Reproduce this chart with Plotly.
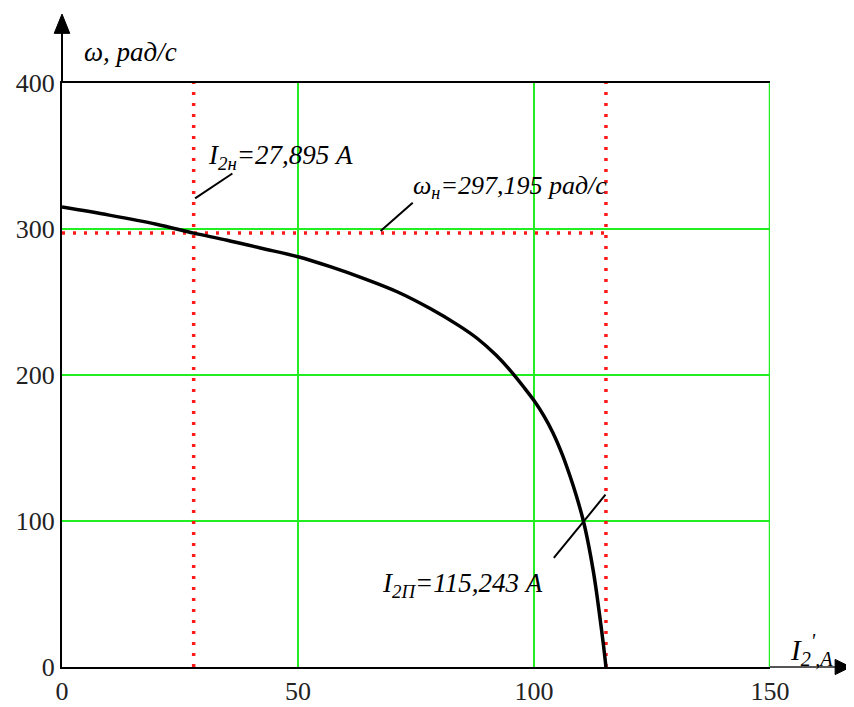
import plotly.graph_objects as go

# Data
I2 = [0, 10, 20, 27.895, 35, 42, 50, 57, 64, 71, 78, 84, 88, 92, 95, 98, 100,
      102, 104, 106, 107.5, 109, 110.5, 111.6, 112.6, 113.3, 114, 114.7, 115.243]
omega = [315, 309.5, 303.3, 297.195, 292.3, 287, 281, 274, 266, 257, 245.5, 234, 225, 213.5, 203, 191, 182.5,
         172.5, 160.5, 145.5, 132, 117, 99.5, 83, 65, 50, 33, 15.5, 0]
I2_nom = 27.895
omega_nom = 297.195
I2_start = 115.243
x_ticks = [0, 50, 100, 150]
y_ticks = [0, 100, 200, 300, 400]

GREEN = "#22ee22"
RED = "#ff1a1a"
SERIF = "Liberation Serif"
DOT = "3px,8px"

fig = go.Figure()

# red dotted reference lines
fig.add_trace(go.Scatter(x=[I2_nom, I2_nom], y=[0, 400], mode="lines",
                         line=dict(color=RED, width=3.5, dash=DOT), hoverinfo="skip"))
fig.add_trace(go.Scatter(x=[I2_start, I2_start], y=[0, 400], mode="lines",
                         line=dict(color=RED, width=3.5, dash=DOT), hoverinfo="skip"))
fig.add_trace(go.Scatter(x=[0, I2_start], y=[omega_nom, omega_nom], mode="lines",
                         line=dict(color=RED, width=3.5, dash=DOT), hoverinfo="skip"))

# main curve
fig.add_trace(go.Scatter(x=I2, y=omega, mode="lines",
                         line=dict(color="black", width=3.5, shape="spline", smoothing=1.0),
                         hoverinfo="skip"))

shapes = []
# green gridline at right edge
shapes.append(dict(type="line", xref="x", yref="y", x0=150, x1=150, y0=0, y1=400,
                   line=dict(color=GREEN, width=2.5)))
# leader lines
shapes.append(dict(type="line", xref="x", yref="y", x0=I2_nom + 0.3, y0=321, x1=I2_nom + 8.2, y1=338,
                   line=dict(color="black", width=2)))
shapes.append(dict(type="line", xref="x", yref="y", x0=67.5, y0=omega_nom + 1.5, x1=74.3, y1=318,
                   line=dict(color="black", width=2)))
shapes.append(dict(type="line", xref="x", yref="y", x0=104.2, y0=74.7, x1=I2_start - 0.1, y1=118,
                   line=dict(color="black", width=2)))
# axis extensions with arrows (paper coords)
shapes.append(dict(type="line", xref="paper", yref="paper", x0=0, x1=0, y0=1, y1=1.09,
                   line=dict(color="black", width=2)))
shapes.append(dict(type="path", xref="paper", yref="paper",
                   path="M -0.011 1.085 L 0.011 1.085 L 0 1.118 Z",
                   fillcolor="black", line=dict(color="black", width=1)))
shapes.append(dict(type="line", xref="paper", yref="paper", x0=1, x1=1.095, y0=0, y1=0,
                   line=dict(color="#555555", width=2)))
shapes.append(dict(type="path", xref="paper", yref="paper",
                   path="M 1.092 -0.013 L 1.092 0.013 L 1.114 0 Z",
                   fillcolor="black", line=dict(color="black", width=1)))

def afont(size):
    return dict(family=SERIF, size=size, color="black", style="italic")

annotations = [
    dict(x=30.6, y=349.3, xref="x", yref="y", xanchor="left", yanchor="middle", showarrow=False,
         text="I<sub>2н</sub>=27,895 A", font=afont(27)),
    dict(x=73.9, y=328.8, xref="x", yref="y", xanchor="left", yanchor="middle", showarrow=False,
         text="ω<sub>н</sub>=297,195 рад/с", font=afont(26)),
    dict(x=67.3, y=56.2, xref="x", yref="y", xanchor="left", yanchor="middle", showarrow=False,
         text="I<sub>2П</sub>=115,243 A", font=afont(27)),
    dict(x=0.028, y=1.053, xref="paper", yref="paper", xanchor="left", yanchor="middle", showarrow=False,
         text="ω, рад/с", font=afont(27)),
    dict(x=1.025, y=0.029, xref="paper", yref="paper", xanchor="left", yanchor="middle", showarrow=False,
         text="I<sub>2</sub><sup>'</sup><sub>,A</sub>", font=afont(29)),
]

fig.update_layout(
    width=854, height=707,
    margin=dict(l=54, r=92, t=75, b=48),
    paper_bgcolor="white", plot_bgcolor="white",
    showlegend=False,
    shapes=shapes, annotations=annotations,
    xaxis=dict(range=[0, 150], tickvals=x_ticks, ticktext=[str(v) for v in x_ticks],
               showgrid=True, gridcolor=GREEN, gridwidth=2, zeroline=False, automargin=False,
               showline=True, linecolor="black", linewidth=2, mirror=True,
               ticks="", tickfont=dict(family=SERIF, size=26, color="#222222")),
    yaxis=dict(range=[0, 400], tickvals=y_ticks, ticktext=[str(v) for v in y_ticks],
               showgrid=True, gridcolor=GREEN, gridwidth=2, zeroline=False, automargin=False,
               showline=True, linecolor="black", linewidth=2, mirror=False,
               ticks="", tickfont=dict(family=SERIF, size=26, color="#222222")),
)

fig.write_html("out.html")
